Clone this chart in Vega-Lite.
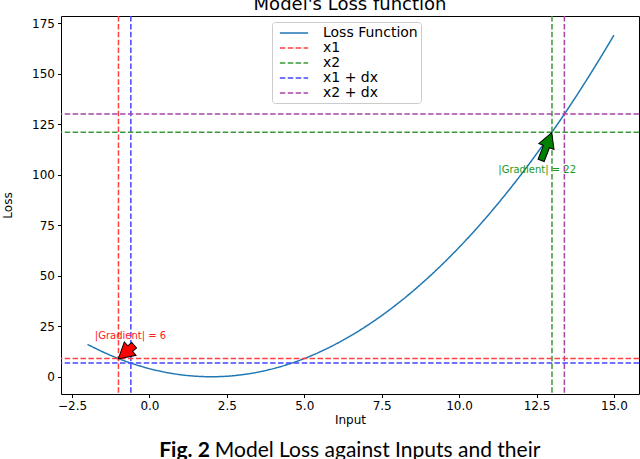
{
  "$schema": "https://vega.github.io/schema/vega-lite/v6.json",
  "width": 578,
  "height": 378,
  "autosize": {"type": "none"},
  "padding": {"left": 61, "top": 16, "right": 1, "bottom": 65},
  "background": "white",
  "config": {
    "view": {"stroke": "black", "strokeWidth": 1},
    "font": "DejaVu Sans",
    "axis": {"grid": false, "domain": false, "tickColor": "black", "tickSize": 3.5, "labelColor": "black", "labelFont": "DejaVu Sans", "labelFontSize": 12, "labelPadding": 3, "titleFont": "DejaVu Sans", "titleFontWeight": "normal", "titleFontSize": 12, "titleColor": "black"},
    "legend": {"fillColor": "white", "strokeColor": "#cccccc", "cornerRadius": 3, "padding": 3, "symbolType": "M-2,0L2,0", "symbolSize": 200, "symbolOffset": 11, "symbolStrokeWidth": 1.5, "labelFont": "DejaVu Sans", "labelFontSize": 14, "labelColor": "black", "labelOffset": 21, "rowPadding": 0}
  },
  "title": {"text": "Model's Loss function", "font": "DejaVu Sans", "fontSize": 18, "fontWeight": "normal", "color": "black", "offset": -13, "baseline": "alphabetic", "anchor": "middle"},
  "datasets": {
    "loss": [
      {"x": -2, "loss": 16}, {"x": -1.5, "loss": 12.25}, {"x": -1, "loss": 9}, {"x": -0.5, "loss": 6.25},
      {"x": 0, "loss": 4}, {"x": 0.5, "loss": 2.25}, {"x": 1, "loss": 1}, {"x": 1.5, "loss": 0.25},
      {"x": 2, "loss": 0}, {"x": 2.5, "loss": 0.25}, {"x": 3, "loss": 1}, {"x": 3.5, "loss": 2.25},
      {"x": 4, "loss": 4}, {"x": 4.5, "loss": 6.25}, {"x": 5, "loss": 9}, {"x": 5.5, "loss": 12.25},
      {"x": 6, "loss": 16}, {"x": 6.5, "loss": 20.25}, {"x": 7, "loss": 25}, {"x": 7.5, "loss": 30.25},
      {"x": 8, "loss": 36}, {"x": 8.5, "loss": 42.25}, {"x": 9, "loss": 49}, {"x": 9.5, "loss": 56.25},
      {"x": 10, "loss": 64}, {"x": 10.5, "loss": 72.25}, {"x": 11, "loss": 81}, {"x": 11.5, "loss": 90.25},
      {"x": 12, "loss": 100}, {"x": 12.5, "loss": 110.25}, {"x": 13, "loss": 121}, {"x": 13.5, "loss": 132.25},
      {"x": 14, "loss": 144}, {"x": 14.5, "loss": 156.25}, {"x": 15, "loss": 169}
    ],
    "marks": [
      {"series": "x1", "x": -1, "loss": 9},
      {"series": "x2", "x": 13, "loss": 121},
      {"series": "x1 + dx", "x": -0.6, "loss": 6.76},
      {"series": "x2 + dx", "x": 13.4, "loss": 129.96}
    ],
    "notes": [
      {"label": "|Gradient| = 6", "x": -0.61, "loss": 20.1, "ax": -0.75, "ay": 12.2},
      {"label": "|Gradient| = 22", "x": 12.52, "loss": 102.2, "ax": 12.82, "ay": 113.9}
    ],
    "caption": [
      {"bold": "Fig. 2", "rest": "Model Loss against Inputs and their", "x": 1.95, "loss": -39.9}
    ]
  },
  "layer": [
    {
      "data": {"name": "loss"},
      "transform": [{"calculate": "'Loss Function'", "as": "series"}],
      "mark": {"type": "line", "strokeWidth": 1.5, "interpolate": "monotone", "clip": true},
      "encoding": {
        "x": {"field": "x", "type": "quantitative", "scale": {"domain": [-2.856, 15.81], "nice": false, "zero": false},
              "axis": {"values": [-2.5, 0, 2.5, 5, 7.5, 10, 12.5, 15], "format": ".1f", "title": "Input", "titlePadding": 3}},
        "y": {"field": "loss", "type": "quantitative", "scale": {"domain": [-8.55, 178.5], "nice": false, "zero": false},
              "axis": {"values": [0, 25, 50, 75, 100, 125, 150, 175], "title": "Loss", "titlePadding": 17}},
        "color": {"field": "series", "type": "nominal",
                  "scale": {"domain": ["Loss Function", "x1", "x2", "x1 + dx", "x2 + dx"], "range": ["#1f77b4", "#ff4040", "#3a9a3a", "#4646ff", "#a646a6"]},
                  "legend": {"title": null, "orient": "none", "legendX": 211, "legendY": 6}},
        "strokeDash": {"field": "series", "type": "nominal",
                       "scale": {"domain": ["Loss Function", "x1", "x2", "x1 + dx", "x2 + dx"], "range": [[1, 0], [5.5, 2.4], [5.5, 2.4], [5.5, 2.4], [5.5, 2.4]]},
                       "legend": {"title": null, "orient": "none", "legendX": 211, "legendY": 6}}
      }
    },
    {
      "data": {"name": "marks"},
      "mark": {"type": "rule", "strokeWidth": 1.5},
      "encoding": {
        "x": {"field": "x", "type": "quantitative"},
        "color": {"field": "series", "type": "nominal"},
        "strokeDash": {"field": "series", "type": "nominal"}
      }
    },
    {
      "data": {"name": "marks"},
      "mark": {"type": "rule", "strokeWidth": 1.5},
      "encoding": {
        "y": {"field": "loss", "type": "quantitative"},
        "color": {"field": "series", "type": "nominal"},
        "strokeDash": {"field": "series", "type": "nominal"}
      }
    },
    {
      "data": {"name": "notes"},
      "transform": [{"filter": "datum.x < 5"}],
      "mark": {"type": "text", "color": "#ff2020", "fontSize": 10, "font": "DejaVu Sans", "align": "center", "baseline": "middle"},
      "encoding": {"x": {"field": "x", "type": "quantitative"}, "y": {"field": "loss", "type": "quantitative"}, "text": {"field": "label"}}
    },
    {
      "data": {"name": "notes"},
      "transform": [{"filter": "datum.x > 5"}],
      "mark": {"type": "text", "color": "#1a9a1a", "fontSize": 10, "font": "DejaVu Sans", "align": "center", "baseline": "middle"},
      "encoding": {"x": {"field": "x", "type": "quantitative"}, "y": {"field": "loss", "type": "quantitative"}, "text": {"field": "label"}}
    },
    {
      "data": {"name": "notes"},
      "transform": [{"filter": "datum.x < 5"}],
      "mark": {"type": "point", "shape": "M0,-1L0.85,0.5L0.35,0.5L0.35,1L-0.35,1L-0.35,0.5L-0.85,0.5Z", "filled": true, "fill": "#ff0000", "stroke": "black", "strokeWidth": 1, "opacity": 1, "fillOpacity": 1, "size": 440, "angle": 229},
      "encoding": {"x": {"field": "ax", "type": "quantitative"}, "y": {"field": "ay", "type": "quantitative"}}
    },
    {
      "data": {"name": "notes"},
      "transform": [{"filter": "datum.x > 5"}],
      "mark": {"type": "point", "shape": "M0,-1L0.55,0L0.22,0L0.22,1L-0.22,1L-0.22,0L-0.55,0Z", "filled": true, "fill": "#008000", "stroke": "black", "strokeWidth": 1, "opacity": 1, "fillOpacity": 1, "size": 876, "angle": 21},
      "encoding": {"x": {"field": "ax", "type": "quantitative"}, "y": {"field": "ay", "type": "quantitative"}}
    },
    {
      "data": {"name": "caption"},
      "mark": {"type": "text", "font": "Lato", "fontWeight": "bold", "fontSize": 21, "color": "black", "align": "right", "baseline": "alphabetic"},
      "encoding": {"x": {"field": "x", "type": "quantitative"}, "y": {"field": "loss", "type": "quantitative"}, "text": {"field": "bold"}}
    },
    {
      "data": {"name": "caption"},
      "mark": {"type": "text", "font": "Lato", "fontSize": 21, "color": "black", "align": "left", "baseline": "alphabetic", "dx": 5},
      "encoding": {"x": {"field": "x", "type": "quantitative"}, "y": {"field": "loss", "type": "quantitative"}, "text": {"field": "rest"}}
    }
  ]
}
